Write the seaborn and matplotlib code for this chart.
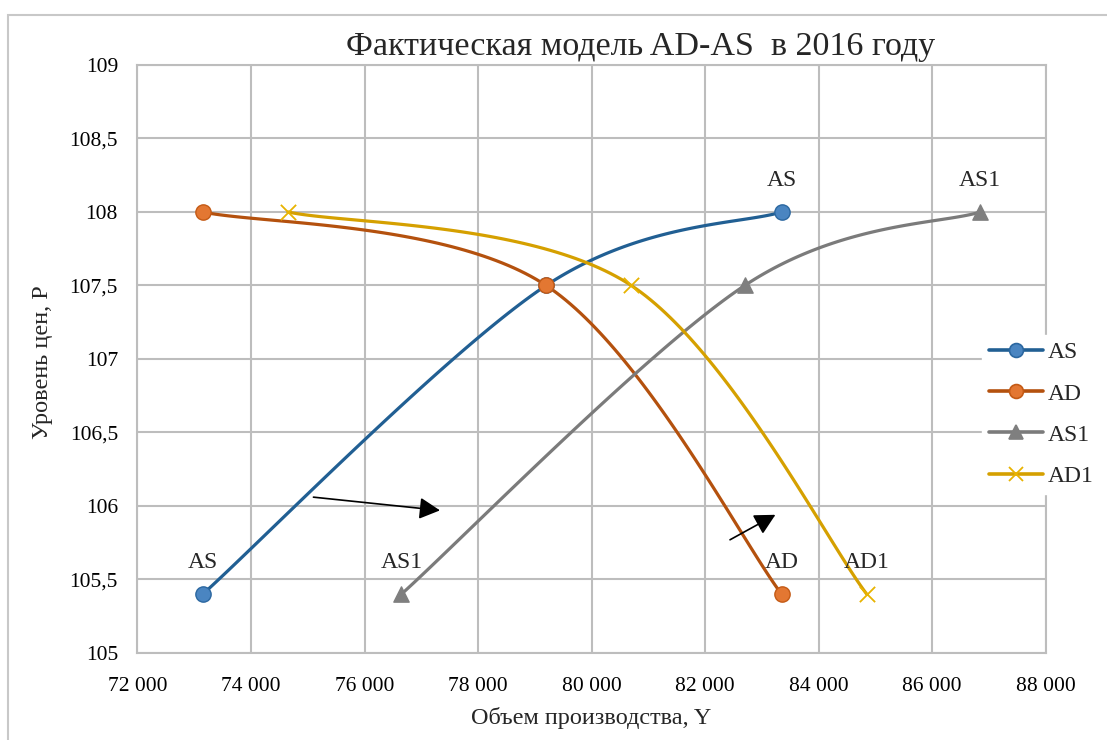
import numpy as np
import pandas as pd
import matplotlib
matplotlib.use("Agg")
import matplotlib.pyplot as plt
from matplotlib.lines import Line2D
from matplotlib.patches import Rectangle
import seaborn as sns

# Price level (P) at each point, shared by all four curves
price_up = [105.4, 107.5, 108.0]
price_down = [108.0, 107.5, 105.4]

# Output (Y) for each curve
as_y = [73150, 79200, 83350]
ad_y = [73150, 79200, 83350]
as1_y = [76650, 82700, 86850]
ad1_y = [74650, 80700, 84850]

series_names = ["AS", "AD", "AS1", "AD1"]
x_ticks = [72000, 74000, 76000, 78000, 80000, 82000, 84000, 86000, 88000]
y_ticks = [105, 105.5, 106, 106.5, 107, 107.5, 108, 108.5, 109]

sns.set_theme(style="white")
plt.rcParams["font.family"] = ["Liberation Serif", "DejaVu Serif"]

fig = plt.figure(figsize=(11.07, 7.40), dpi=100)
ax = fig.add_axes([0.1242, 0.1176, 0.8203, 0.7946])
ax.set_xlim(72000, 88000)
ax.set_ylim(105, 109)

grid_c = "#BDBDBD"
ax.set_xticks(x_ticks)
ax.set_yticks(y_ticks)
ax.grid(True, color=grid_c, linewidth=1.5)
ax.set_axisbelow(True)
for s in ax.spines.values():
    s.set_color(grid_c)
    s.set_linewidth(1.5)
ax.tick_params(length=0, labelsize=15.5, colors="black")
ax.tick_params(axis="x", pad=17)
ax.tick_params(axis="y", pad=14)
ax.set_xticklabels([f"{v:,}".replace(",", " ") for v in x_ticks])
ax.set_yticklabels([f"{v:g}".replace(".", ",") for v in y_ticks])


def smooth(xs, ys, n=60):
    """Bezier smoothing (Catmull-Rom style) computed in display space."""
    pts = ax.transData.transform(np.column_stack([xs, ys]))
    m = len(pts)
    out = []
    for i in range(m - 1):
        p0 = pts[max(i - 1, 0)]
        p1 = pts[i]
        p2 = pts[i + 1]
        p3 = pts[min(i + 2, m - 1)]
        c1 = p1 + (p2 - p0) / 6.0
        c2 = p2 - (p3 - p1) / 6.0
        t = np.linspace(0, 1, n)[:, None]
        seg = ((1 - t) ** 3) * p1 + 3 * ((1 - t) ** 2) * t * c1 + 3 * (1 - t) * t ** 2 * c2 + t ** 3 * p2
        out.append(seg if i == 0 else seg[1:])
    out = np.vstack(out)
    data = ax.transData.inverted().transform(out)
    return data[:, 0], data[:, 1]


styles = {
    "AS": dict(line="#215F93", face="#4A85C1", edge="#2B67A0", marker="o", ms=11),
    "AD": dict(line="#B4510E", face="#E37732", edge="#C45A15", marker="o", ms=11),
    "AS1": dict(line="#7B7B7B", face="#7F7F7F", edge="#7F7F7F", marker="^", ms=11),
    "AD1": dict(line="#D5A000", face="#E8B300", edge="#E8B300", marker="x", ms=11),
}
series_x = {"AS": as_y, "AD": ad_y, "AS1": as1_y, "AD1": ad1_y}
series_p = {"AS": price_up, "AD": price_down, "AS1": price_up, "AD1": price_down}

for name in series_names:
    st = styles[name]
    sx, sp = smooth(series_x[name], series_p[name])
    curve = pd.DataFrame({"Y": sx, "P": sp})
    sns.lineplot(data=curve, x="Y", y="P", sort=False, estimator=None, ax=ax,
                 color=st["line"], linewidth=2.3, zorder=3)
    pts = pd.DataFrame({"Y": series_x[name], "P": series_p[name]})
    if st["marker"] == "x":
        sns.scatterplot(data=pts, x="Y", y="P", ax=ax, marker="x", s=st["ms"] ** 2,
                        color=st["face"], linewidth=1.3, zorder=4)
    else:
        sns.scatterplot(data=pts, x="Y", y="P", ax=ax, marker=st["marker"], s=st["ms"] ** 2,
                        color=st["face"], edgecolor=st["edge"], linewidth=1.0, zorder=4)

ax.set_xlabel("")
ax.set_ylabel("")

# Labels over the end points of each curve
end_labels = [
    ("AS", as_y[0], price_up[0]), ("AS", as_y[2], price_up[2]),
    ("AS1", as1_y[0], price_up[0]), ("AS1", as1_y[2], price_up[2]),
    ("AD", ad_y[2], price_down[2]), ("AD1", ad1_y[2], price_down[2]),
]
for txt, xv, yv in end_labels:
    ax.annotate(txt, (xv, yv), xytext=(0, 22.5), textcoords="offset points",
                ha="center", va="center", fontsize=17, zorder=5)

# Shift arrows
shift_arrows = [((75100, 106.06), (77330, 105.97)), ((82440, 105.77), (83240, 105.94))]
for (x0, y0), (x1, y1) in shift_arrows:
    ax.annotate("", xy=(x1, y1), xytext=(x0, y0),
                arrowprops=dict(arrowstyle="-|>,head_length=1.05,head_width=0.55",
                                color="black", lw=1.2, shrinkA=0, shrinkB=0), zorder=5)

handles = [Line2D([0], [0], color=styles[n]["line"], lw=2.6, marker=styles[n]["marker"],
                  markersize=10, markerfacecolor=styles[n]["face"],
                  markeredgecolor=styles[n]["edge"], markeredgewidth=1.2 if n != "AD1" else 1.3)
           for n in series_names]
leg = fig.legend(handles, series_names, loc="center left", bbox_to_anchor=(0.887, 0.44),
                 frameon=True, fontsize=17, handlelength=2.3, handletextpad=0.2,
                 labelspacing=0.83, borderpad=0.3, borderaxespad=0)
leg.get_frame().set_edgecolor("white")
leg.get_frame().set_facecolor("white")
leg.get_frame().set_alpha(1)

fig.text(0.579, 0.937, "Фактическая модель AD-AS  в 2016 году", ha="center", va="center",
         fontsize=24.5)
fig.text(0.534, 0.030, "Объем производства, Y", ha="center", va="center", fontsize=17.5)
fig.text(0.038, 0.511, "Уровень цен, P", ha="center", va="center", rotation=90, fontsize=17.5)

fig.patches.append(Rectangle((8 / 1107, -0.2), 1.5, 1.2 - 15 / 740 + 0.0,
                             transform=fig.transFigure, fill=False,
                             edgecolor="#C8C8C8", linewidth=1.5, figure=fig))

fig.savefig("out.png", dpi=100, facecolor="white")
